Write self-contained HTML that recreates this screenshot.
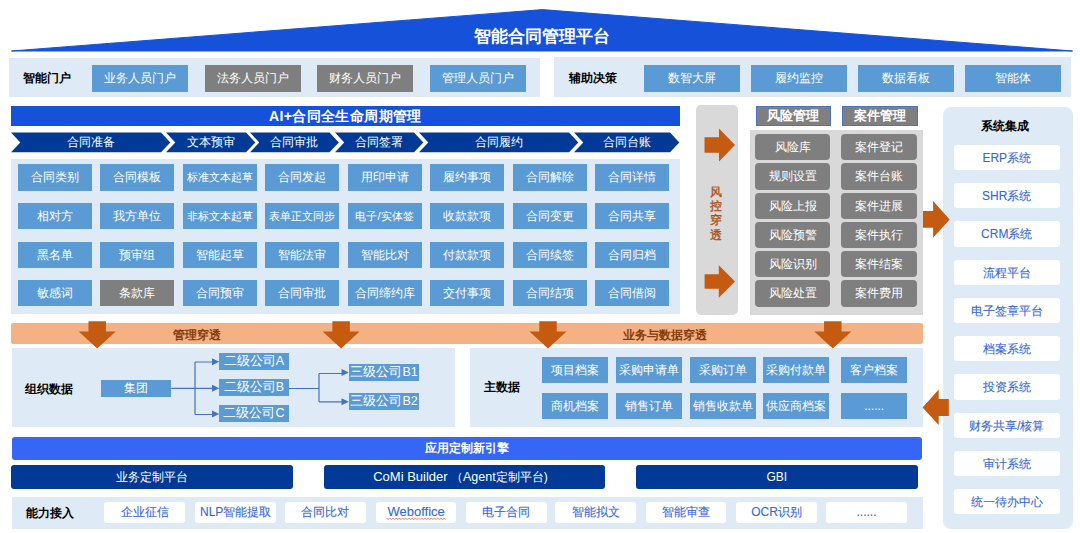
<!DOCTYPE html>
<html><head><meta charset="utf-8"><title>智能合同管理平台</title>
<style>
html,body{margin:0;padding:0;background:#fff;}
body{width:1080px;height:533px;position:relative;overflow:hidden;font-family:"Liberation Sans",sans-serif;}
.b,.t,.l{position:absolute;}
.t{text-align:center;white-space:nowrap;overflow:hidden;}
.l{white-space:nowrap;}
.ov{position:absolute;left:0;top:0;}
</style></head><body>

<svg class="ov" width="1080" height="533" viewBox="0 0 1080 533"><polygon points="11.5,51 542.5,9.6 1072.5,51" fill="#1652d9" stroke="#1652d9" stroke-width="1" stroke-linejoin="bevel"/><polygon points="11,132.6 161,132.6 170.3,142.39999999999998 161,152.2 11,152.2 20.3,142.39999999999998" fill="#003a96"/><polygon points="166,132.6 246,132.6 255.3,142.39999999999998 246,152.2 166,152.2 175.3,142.39999999999998" fill="#003a96"/><polygon points="250,132.6 329.5,132.6 338.8,142.39999999999998 329.5,152.2 250,152.2 259.3,142.39999999999998" fill="#003a96"/><polygon points="335,132.6 414,132.6 423.3,142.39999999999998 414,152.2 335,152.2 344.3,142.39999999999998" fill="#003a96"/><polygon points="419,132.6 569,132.6 578.3,142.39999999999998 569,152.2 419,152.2 428.3,142.39999999999998" fill="#003a96"/><polygon points="574,132.6 670,132.6 679.3,142.39999999999998 670,152.2 574,152.2 583.3,142.39999999999998" fill="#003a96"/></svg>
<div class="l" style="left:392.0px;width:300px;text-align:center;top:27.0px;height:20px;line-height:20px;color:#fff;font-size:17px;font-weight:bold;">智能合同管理平台</div>
<div class="b" style="left:8.7px;top:57.8px;width:530.9px;height:39.4px;background:#deebf7;"></div>
<div class="l" style="left:23.0px;top:68.0px;height:20px;line-height:20px;color:#000;font-size:12px;font-weight:bold;">智能门户</div>
<div class="t" style="left:92.0px;top:65.2px;width:95.6px;height:26.5px;line-height:26.5px;background:#5b9bd5;color:#fff;font-size:12px;font-weight:normal;"><span style="position:relative;top:0px">业务人员门户</span></div>
<div class="t" style="left:205.0px;top:65.2px;width:95.6px;height:26.5px;line-height:26.5px;background:#7f7f7f;color:#fff;font-size:12px;font-weight:normal;"><span style="position:relative;top:0px">法务人员门户</span></div>
<div class="t" style="left:317.4px;top:65.2px;width:95.6px;height:26.5px;line-height:26.5px;background:#7f7f7f;color:#fff;font-size:12px;font-weight:normal;"><span style="position:relative;top:0px">财务人员门户</span></div>
<div class="t" style="left:430.4px;top:65.2px;width:95.6px;height:26.5px;line-height:26.5px;background:#5b9bd5;color:#fff;font-size:12px;font-weight:normal;"><span style="position:relative;top:0px">管理人员门户</span></div>
<div class="b" style="left:553.6px;top:56.5px;width:517.0px;height:40.7px;background:#deebf7;"></div>
<div class="l" style="left:569.4px;top:68.0px;height:20px;line-height:20px;color:#000;font-size:12px;font-weight:bold;">辅助决策</div>
<div class="t" style="left:644.0px;top:65.2px;width:96.0px;height:26.5px;line-height:26.5px;background:#5b9bd5;color:#fff;font-size:12px;font-weight:normal;"><span style="position:relative;top:0px">数智大屏</span></div>
<div class="t" style="left:751.0px;top:65.2px;width:96.0px;height:26.5px;line-height:26.5px;background:#5b9bd5;color:#fff;font-size:12px;font-weight:normal;"><span style="position:relative;top:0px">履约监控</span></div>
<div class="t" style="left:857.8px;top:65.2px;width:96.0px;height:26.5px;line-height:26.5px;background:#5b9bd5;color:#fff;font-size:12px;font-weight:normal;"><span style="position:relative;top:0px">数据看板</span></div>
<div class="t" style="left:964.5px;top:65.2px;width:96.0px;height:26.5px;line-height:26.5px;background:#5b9bd5;color:#fff;font-size:12px;font-weight:normal;"><span style="position:relative;top:0px">智能体</span></div>
<div class="t" style="left:11.2px;top:106.3px;width:668.4px;height:20.0px;line-height:20.0px;background:#1652d9;color:#fff;font-size:14px;font-weight:bold;letter-spacing:0.4px;"><span style="position:relative;top:0px">AI+合同全生命周期管理</span></div>
<div class="l" style="left:-59.3px;width:300px;text-align:center;top:132.4px;height:20px;line-height:20px;color:#fff;font-size:12px;font-weight:normal;">合同准备</div>
<div class="l" style="left:60.7px;width:300px;text-align:center;top:132.4px;height:20px;line-height:20px;color:#fff;font-size:12px;font-weight:normal;">文本预审</div>
<div class="l" style="left:144.4px;width:300px;text-align:center;top:132.4px;height:20px;line-height:20px;color:#fff;font-size:12px;font-weight:normal;">合同审批</div>
<div class="l" style="left:229.1px;width:300px;text-align:center;top:132.4px;height:20px;line-height:20px;color:#fff;font-size:12px;font-weight:normal;">合同签署</div>
<div class="l" style="left:348.6px;width:300px;text-align:center;top:132.4px;height:20px;line-height:20px;color:#fff;font-size:12px;font-weight:normal;">合同履约</div>
<div class="l" style="left:476.6px;width:300px;text-align:center;top:132.4px;height:20px;line-height:20px;color:#fff;font-size:12px;font-weight:normal;">合同台账</div>
<div class="b" style="left:10.5px;top:158.5px;width:669.1px;height:155.8px;background:#deebf7;"></div>
<div class="t" style="left:17.5px;top:164.4px;width:74.0px;height:26.3px;line-height:26.3px;background:#5b9bd5;color:#fff;font-size:12px;font-weight:normal;"><span style="position:relative;top:0px">合同类别</span></div>
<div class="t" style="left:100.0px;top:164.4px;width:74.0px;height:26.3px;line-height:26.3px;background:#5b9bd5;color:#fff;font-size:12px;font-weight:normal;"><span style="position:relative;top:0px">合同模板</span></div>
<div class="t" style="left:182.5px;top:164.4px;width:74.0px;height:26.3px;line-height:26.3px;background:#5b9bd5;color:#fff;font-size:11px;font-weight:normal;"><span style="position:relative;top:0px">标准文本起草</span></div>
<div class="t" style="left:265.0px;top:164.4px;width:74.0px;height:26.3px;line-height:26.3px;background:#5b9bd5;color:#fff;font-size:12px;font-weight:normal;"><span style="position:relative;top:0px">合同发起</span></div>
<div class="t" style="left:347.5px;top:164.4px;width:74.0px;height:26.3px;line-height:26.3px;background:#5b9bd5;color:#fff;font-size:12px;font-weight:normal;"><span style="position:relative;top:0px">用印申请</span></div>
<div class="t" style="left:430.0px;top:164.4px;width:74.0px;height:26.3px;line-height:26.3px;background:#5b9bd5;color:#fff;font-size:12px;font-weight:normal;"><span style="position:relative;top:0px">履约事项</span></div>
<div class="t" style="left:512.5px;top:164.4px;width:74.0px;height:26.3px;line-height:26.3px;background:#5b9bd5;color:#fff;font-size:12px;font-weight:normal;"><span style="position:relative;top:0px">合同解除</span></div>
<div class="t" style="left:595.0px;top:164.4px;width:74.0px;height:26.3px;line-height:26.3px;background:#5b9bd5;color:#fff;font-size:12px;font-weight:normal;"><span style="position:relative;top:0px">合同详情</span></div>
<div class="t" style="left:17.5px;top:202.6px;width:74.0px;height:26.3px;line-height:26.3px;background:#5b9bd5;color:#fff;font-size:12px;font-weight:normal;"><span style="position:relative;top:0px">相对方</span></div>
<div class="t" style="left:100.0px;top:202.6px;width:74.0px;height:26.3px;line-height:26.3px;background:#5b9bd5;color:#fff;font-size:12px;font-weight:normal;"><span style="position:relative;top:0px">我方单位</span></div>
<div class="t" style="left:182.5px;top:202.6px;width:74.0px;height:26.3px;line-height:26.3px;background:#5b9bd5;color:#fff;font-size:11px;font-weight:normal;"><span style="position:relative;top:0px">非标文本起草</span></div>
<div class="t" style="left:265.0px;top:202.6px;width:74.0px;height:26.3px;line-height:26.3px;background:#5b9bd5;color:#fff;font-size:11px;font-weight:normal;"><span style="position:relative;top:0px">表单正文同步</span></div>
<div class="t" style="left:347.5px;top:202.6px;width:74.0px;height:26.3px;line-height:26.3px;background:#5b9bd5;color:#fff;font-size:11px;font-weight:normal;"><span style="position:relative;top:0px">电子/实体签</span></div>
<div class="t" style="left:430.0px;top:202.6px;width:74.0px;height:26.3px;line-height:26.3px;background:#5b9bd5;color:#fff;font-size:12px;font-weight:normal;"><span style="position:relative;top:0px">收款款项</span></div>
<div class="t" style="left:512.5px;top:202.6px;width:74.0px;height:26.3px;line-height:26.3px;background:#5b9bd5;color:#fff;font-size:12px;font-weight:normal;"><span style="position:relative;top:0px">合同变更</span></div>
<div class="t" style="left:595.0px;top:202.6px;width:74.0px;height:26.3px;line-height:26.3px;background:#5b9bd5;color:#fff;font-size:12px;font-weight:normal;"><span style="position:relative;top:0px">合同共享</span></div>
<div class="t" style="left:17.5px;top:241.9px;width:74.0px;height:26.3px;line-height:26.3px;background:#5b9bd5;color:#fff;font-size:12px;font-weight:normal;"><span style="position:relative;top:0px">黑名单</span></div>
<div class="t" style="left:100.0px;top:241.9px;width:74.0px;height:26.3px;line-height:26.3px;background:#5b9bd5;color:#fff;font-size:12px;font-weight:normal;"><span style="position:relative;top:0px">预审组</span></div>
<div class="t" style="left:182.5px;top:241.9px;width:74.0px;height:26.3px;line-height:26.3px;background:#5b9bd5;color:#fff;font-size:12px;font-weight:normal;"><span style="position:relative;top:0px">智能起草</span></div>
<div class="t" style="left:265.0px;top:241.9px;width:74.0px;height:26.3px;line-height:26.3px;background:#5b9bd5;color:#fff;font-size:12px;font-weight:normal;"><span style="position:relative;top:0px">智能法审</span></div>
<div class="t" style="left:347.5px;top:241.9px;width:74.0px;height:26.3px;line-height:26.3px;background:#5b9bd5;color:#fff;font-size:12px;font-weight:normal;"><span style="position:relative;top:0px">智能比对</span></div>
<div class="t" style="left:430.0px;top:241.9px;width:74.0px;height:26.3px;line-height:26.3px;background:#5b9bd5;color:#fff;font-size:12px;font-weight:normal;"><span style="position:relative;top:0px">付款款项</span></div>
<div class="t" style="left:512.5px;top:241.9px;width:74.0px;height:26.3px;line-height:26.3px;background:#5b9bd5;color:#fff;font-size:12px;font-weight:normal;"><span style="position:relative;top:0px">合同续签</span></div>
<div class="t" style="left:595.0px;top:241.9px;width:74.0px;height:26.3px;line-height:26.3px;background:#5b9bd5;color:#fff;font-size:12px;font-weight:normal;"><span style="position:relative;top:0px">合同归档</span></div>
<div class="t" style="left:17.5px;top:280.1px;width:74.0px;height:26.3px;line-height:26.3px;background:#5b9bd5;color:#fff;font-size:12px;font-weight:normal;"><span style="position:relative;top:0px">敏感词</span></div>
<div class="t" style="left:100.0px;top:280.1px;width:74.0px;height:26.3px;line-height:26.3px;background:#7f7f7f;color:#fff;font-size:12px;font-weight:normal;"><span style="position:relative;top:0px">条款库</span></div>
<div class="t" style="left:182.5px;top:280.1px;width:74.0px;height:26.3px;line-height:26.3px;background:#5b9bd5;color:#fff;font-size:12px;font-weight:normal;"><span style="position:relative;top:0px">合同预审</span></div>
<div class="t" style="left:265.0px;top:280.1px;width:74.0px;height:26.3px;line-height:26.3px;background:#5b9bd5;color:#fff;font-size:12px;font-weight:normal;"><span style="position:relative;top:0px">合同审批</span></div>
<div class="t" style="left:347.5px;top:280.1px;width:74.0px;height:26.3px;line-height:26.3px;background:#5b9bd5;color:#fff;font-size:12px;font-weight:normal;"><span style="position:relative;top:0px">合同缔约库</span></div>
<div class="t" style="left:430.0px;top:280.1px;width:74.0px;height:26.3px;line-height:26.3px;background:#5b9bd5;color:#fff;font-size:12px;font-weight:normal;"><span style="position:relative;top:0px">交付事项</span></div>
<div class="t" style="left:512.5px;top:280.1px;width:74.0px;height:26.3px;line-height:26.3px;background:#5b9bd5;color:#fff;font-size:12px;font-weight:normal;"><span style="position:relative;top:0px">合同结项</span></div>
<div class="t" style="left:595.0px;top:280.1px;width:74.0px;height:26.3px;line-height:26.3px;background:#5b9bd5;color:#fff;font-size:12px;font-weight:normal;"><span style="position:relative;top:0px">合同借阅</span></div>
<div class="b" style="left:696.2px;top:105.3px;width:42.2px;height:209.3px;background:#d9d9d9;border-radius:5px;"></div>
<div class="l" style="left:703px;width:26px;text-align:center;top:184.7px;line-height:14.3px;font-size:12px;font-weight:normal;color:#a8521c;-webkit-text-stroke:0.35px #a8521c">风<br>控<br>穿<br>透</div>
<div class="t" style="left:755.7px;top:105.8px;width:75.3px;height:20.6px;line-height:20.6px;background:#7f7f7f;color:#fff;font-size:13px;font-weight:bold;box-sizing:border-box;border:1.3px solid #4a74c8;line-height:17.6px;"><span style="position:relative;top:0px">风险管理</span></div>
<div class="t" style="left:841.5px;top:105.8px;width:76.2px;height:20.6px;line-height:20.6px;background:#7f7f7f;color:#fff;font-size:13px;font-weight:bold;box-sizing:border-box;border:1.3px solid #4a74c8;line-height:17.6px;"><span style="position:relative;top:0px">案件管理</span></div>
<div class="b" style="left:750.0px;top:129.8px;width:173.3px;height:184.9px;background:#d9d9d9;"></div>
<div class="t" style="left:755.2px;top:134.0px;width:75.3px;height:26.3px;line-height:26.3px;background:#7f7f7f;color:#fff;font-size:12px;font-weight:normal;border-radius:4px;"><span style="position:relative;top:0px">风险库</span></div>
<div class="t" style="left:841.3px;top:134.0px;width:76.0px;height:26.3px;line-height:26.3px;background:#7f7f7f;color:#fff;font-size:12px;font-weight:normal;border-radius:4px;"><span style="position:relative;top:0px">案件登记</span></div>
<div class="t" style="left:755.2px;top:163.3px;width:75.3px;height:26.3px;line-height:26.3px;background:#7f7f7f;color:#fff;font-size:12px;font-weight:normal;border-radius:4px;"><span style="position:relative;top:0px">规则设置</span></div>
<div class="t" style="left:841.3px;top:163.3px;width:76.0px;height:26.3px;line-height:26.3px;background:#7f7f7f;color:#fff;font-size:12px;font-weight:normal;border-radius:4px;"><span style="position:relative;top:0px">案件台账</span></div>
<div class="t" style="left:755.2px;top:192.5px;width:75.3px;height:26.3px;line-height:26.3px;background:#7f7f7f;color:#fff;font-size:12px;font-weight:normal;border-radius:4px;"><span style="position:relative;top:0px">风险上报</span></div>
<div class="t" style="left:841.3px;top:192.5px;width:76.0px;height:26.3px;line-height:26.3px;background:#7f7f7f;color:#fff;font-size:12px;font-weight:normal;border-radius:4px;"><span style="position:relative;top:0px">案件进展</span></div>
<div class="t" style="left:755.2px;top:221.8px;width:75.3px;height:26.3px;line-height:26.3px;background:#7f7f7f;color:#fff;font-size:12px;font-weight:normal;border-radius:4px;"><span style="position:relative;top:0px">风险预警</span></div>
<div class="t" style="left:841.3px;top:221.8px;width:76.0px;height:26.3px;line-height:26.3px;background:#7f7f7f;color:#fff;font-size:12px;font-weight:normal;border-radius:4px;"><span style="position:relative;top:0px">案件执行</span></div>
<div class="t" style="left:755.2px;top:251.0px;width:75.3px;height:26.3px;line-height:26.3px;background:#7f7f7f;color:#fff;font-size:12px;font-weight:normal;border-radius:4px;"><span style="position:relative;top:0px">风险识别</span></div>
<div class="t" style="left:841.3px;top:251.0px;width:76.0px;height:26.3px;line-height:26.3px;background:#7f7f7f;color:#fff;font-size:12px;font-weight:normal;border-radius:4px;"><span style="position:relative;top:0px">案件结案</span></div>
<div class="t" style="left:755.2px;top:280.3px;width:75.3px;height:26.3px;line-height:26.3px;background:#7f7f7f;color:#fff;font-size:12px;font-weight:normal;border-radius:4px;"><span style="position:relative;top:0px">风险处置</span></div>
<div class="t" style="left:841.3px;top:280.3px;width:76.0px;height:26.3px;line-height:26.3px;background:#7f7f7f;color:#fff;font-size:12px;font-weight:normal;border-radius:4px;"><span style="position:relative;top:0px">案件费用</span></div>
<div class="b" style="left:943.3px;top:106.6px;width:129.6px;height:422.0px;background:#deebf7;border-radius:8px;"></div>
<div class="l" style="left:855.0px;width:300px;text-align:center;top:115.7px;height:20px;line-height:20px;color:#000;font-size:12px;font-weight:bold;">系统集成</div>
<div class="t" style="left:953.7px;top:144.7px;width:106.2px;height:25.4px;line-height:25.4px;background:#fff;color:#3567dc;font-size:12px;font-weight:normal;border-radius:3px;-webkit-text-stroke:0.1px #3567dc;"><span style="position:relative;top:1px">ERP系统</span></div>
<div class="t" style="left:953.7px;top:183.0px;width:106.2px;height:25.4px;line-height:25.4px;background:#fff;color:#3567dc;font-size:12px;font-weight:normal;border-radius:3px;-webkit-text-stroke:0.1px #3567dc;"><span style="position:relative;top:1px">SHR系统</span></div>
<div class="t" style="left:953.7px;top:221.2px;width:106.2px;height:25.4px;line-height:25.4px;background:#fff;color:#3567dc;font-size:12px;font-weight:normal;border-radius:3px;-webkit-text-stroke:0.1px #3567dc;"><span style="position:relative;top:1px">CRM系统</span></div>
<div class="t" style="left:953.7px;top:259.5px;width:106.2px;height:25.4px;line-height:25.4px;background:#fff;color:#3567dc;font-size:12px;font-weight:normal;border-radius:3px;-webkit-text-stroke:0.1px #3567dc;"><span style="position:relative;top:1px">流程平台</span></div>
<div class="t" style="left:953.7px;top:297.8px;width:106.2px;height:25.4px;line-height:25.4px;background:#fff;color:#3567dc;font-size:12px;font-weight:normal;border-radius:3px;-webkit-text-stroke:0.1px #3567dc;"><span style="position:relative;top:1px">电子签章平台</span></div>
<div class="t" style="left:953.7px;top:336.1px;width:106.2px;height:25.4px;line-height:25.4px;background:#fff;color:#3567dc;font-size:12px;font-weight:normal;border-radius:3px;-webkit-text-stroke:0.1px #3567dc;"><span style="position:relative;top:1px">档案系统</span></div>
<div class="t" style="left:953.7px;top:374.3px;width:106.2px;height:25.4px;line-height:25.4px;background:#fff;color:#3567dc;font-size:12px;font-weight:normal;border-radius:3px;-webkit-text-stroke:0.1px #3567dc;"><span style="position:relative;top:1px">投资系统</span></div>
<div class="t" style="left:953.7px;top:412.6px;width:106.2px;height:25.4px;line-height:25.4px;background:#fff;color:#3567dc;font-size:12px;font-weight:normal;border-radius:3px;-webkit-text-stroke:0.1px #3567dc;"><span style="position:relative;top:1px">财务共享/核算</span></div>
<div class="t" style="left:953.7px;top:450.9px;width:106.2px;height:25.4px;line-height:25.4px;background:#fff;color:#3567dc;font-size:12px;font-weight:normal;border-radius:3px;-webkit-text-stroke:0.1px #3567dc;"><span style="position:relative;top:1px">审计系统</span></div>
<div class="t" style="left:953.7px;top:489.1px;width:106.2px;height:25.4px;line-height:25.4px;background:#fff;color:#3567dc;font-size:12px;font-weight:normal;border-radius:3px;-webkit-text-stroke:0.1px #3567dc;"><span style="position:relative;top:1px">统一待办中心</span></div>
<div class="b" style="left:11.0px;top:323.4px;width:911.6px;height:21.0px;background:#f4b183;border-radius:2px;"></div>
<div class="l" style="left:172.8px;top:324.8px;height:20px;line-height:20px;color:#843c0c;font-size:12px;font-weight:bold;">管理穿透</div>
<div class="l" style="left:623.3px;top:325.3px;height:20px;line-height:20px;color:#843c0c;font-size:12px;font-weight:bold;">业务与数据穿透</div>
<div class="b" style="left:11.8px;top:348.4px;width:443.2px;height:78.2px;background:#deebf7;"></div>
<div class="b" style="left:469.5px;top:348.4px;width:453.1px;height:78.3px;background:#deebf7;"></div>
<div class="l" style="left:24.5px;top:378.9px;height:20px;line-height:20px;color:#000;font-size:11.5px;font-weight:bold;">组织数据</div>
<div class="t" style="left:100.7px;top:379.9px;width:70.6px;height:17.1px;line-height:17.1px;background:#5b9bd5;color:#fff;font-size:12px;font-weight:normal;"><span style="position:relative;top:0px">集团</span></div>
<div class="t" style="left:219.3px;top:353.2px;width:69.4px;height:17.0px;line-height:17.0px;background:#5b9bd5;color:#fff;font-size:12.5px;font-weight:normal;"><span style="position:relative;top:0px">二级公司A</span></div>
<div class="t" style="left:219.3px;top:379.3px;width:69.4px;height:17.0px;line-height:17.0px;background:#5b9bd5;color:#fff;font-size:12.5px;font-weight:normal;"><span style="position:relative;top:0px">二级公司B</span></div>
<div class="t" style="left:219.3px;top:405.1px;width:69.4px;height:17.0px;line-height:17.0px;background:#5b9bd5;color:#fff;font-size:12.5px;font-weight:normal;"><span style="position:relative;top:0px">二级公司C</span></div>
<div class="t" style="left:348.9px;top:364.1px;width:70.4px;height:17.2px;line-height:17.2px;background:#5b9bd5;color:#fff;font-size:12.5px;font-weight:normal;"><span style="position:relative;top:0px">三级公司B1</span></div>
<div class="t" style="left:348.9px;top:393.1px;width:70.4px;height:17.2px;line-height:17.2px;background:#5b9bd5;color:#fff;font-size:12.5px;font-weight:normal;"><span style="position:relative;top:0px">三级公司B2</span></div>
<div class="l" style="left:483.5px;top:377.2px;height:20px;line-height:20px;color:#000;font-size:11.5px;font-weight:bold;">主数据</div>
<div class="t" style="left:542.2px;top:357.2px;width:65.8px;height:26.2px;line-height:26.2px;background:#5b9bd5;color:#fff;font-size:12px;font-weight:normal;"><span style="position:relative;top:0px">项目档案</span></div>
<div class="t" style="left:616.0px;top:357.2px;width:65.8px;height:26.2px;line-height:26.2px;background:#5b9bd5;color:#fff;font-size:12px;font-weight:normal;"><span style="position:relative;top:0px">采购申请单</span></div>
<div class="t" style="left:690.4px;top:357.2px;width:65.8px;height:26.2px;line-height:26.2px;background:#5b9bd5;color:#fff;font-size:12px;font-weight:normal;"><span style="position:relative;top:0px">采购订单</span></div>
<div class="t" style="left:763.3px;top:357.2px;width:65.8px;height:26.2px;line-height:26.2px;background:#5b9bd5;color:#fff;font-size:12px;font-weight:normal;"><span style="position:relative;top:0px">采购付款单</span></div>
<div class="t" style="left:841.3px;top:357.2px;width:65.8px;height:26.2px;line-height:26.2px;background:#5b9bd5;color:#fff;font-size:12px;font-weight:normal;"><span style="position:relative;top:0px">客户档案</span></div>
<div class="t" style="left:542.2px;top:392.8px;width:65.8px;height:26.2px;line-height:26.2px;background:#5b9bd5;color:#fff;font-size:12px;font-weight:normal;"><span style="position:relative;top:0px">商机档案</span></div>
<div class="t" style="left:616.0px;top:392.8px;width:65.8px;height:26.2px;line-height:26.2px;background:#5b9bd5;color:#fff;font-size:12px;font-weight:normal;"><span style="position:relative;top:0px">销售订单</span></div>
<div class="t" style="left:690.4px;top:392.8px;width:65.8px;height:26.2px;line-height:26.2px;background:#5b9bd5;color:#fff;font-size:12px;font-weight:normal;"><span style="position:relative;top:0px">销售收款单</span></div>
<div class="t" style="left:763.3px;top:392.8px;width:65.8px;height:26.2px;line-height:26.2px;background:#5b9bd5;color:#fff;font-size:12px;font-weight:normal;"><span style="position:relative;top:0px">供应商档案</span></div>
<div class="t" style="left:841.3px;top:392.8px;width:65.8px;height:26.2px;line-height:26.2px;background:#5b9bd5;color:#fff;font-size:12px;font-weight:normal;"><span style="position:relative;top:0px">......</span></div>
<div class="t" style="left:12.0px;top:437.0px;width:910.2px;height:23.2px;line-height:23.2px;background:#3666f5;color:#fff;font-size:12px;font-weight:bold;border-radius:3px;"><span style="position:relative;top:0px">应用定制新引擎</span></div>
<div class="t" style="left:11.0px;top:465.0px;width:281.5px;height:24.4px;line-height:24.4px;background:#003a96;color:#fff;font-size:12px;font-weight:normal;border-radius:3px;"><span style="position:relative;top:0px">业务定制平台</span></div>
<div class="t" style="left:323.6px;top:465.0px;width:281.7px;height:24.4px;line-height:24.4px;background:#003a96;color:#fff;font-size:12px;font-weight:normal;border-radius:3px;box-sizing:border-box;padding-right:8px;"><span style="position:relative;top:0px"><span style="font-size:13px">CoMi Builder</span> （<span style="font-size:12.5px">Agent</span>定制平台)</span></div>
<div class="t" style="left:635.8px;top:465.0px;width:282.0px;height:24.4px;line-height:24.4px;background:#003a96;color:#fff;font-size:12px;font-weight:normal;border-radius:3px;"><span style="position:relative;top:0px">GBI</span></div>
<div class="b" style="left:12.0px;top:496.8px;width:910.9px;height:32.0px;background:#deebf7;"></div>
<div class="l" style="left:25.9px;top:502.9px;height:20px;line-height:20px;color:#000;font-size:11.5px;font-weight:bold;">能力接入</div>
<div class="t" style="left:104.3px;top:502.3px;width:80.7px;height:20.3px;line-height:20.3px;background:#fff;color:#3567dc;font-size:12px;font-weight:normal;border-radius:3px;-webkit-text-stroke:0.1px #3567dc;"><span style="position:relative;top:0px">企业征信</span></div>
<div class="t" style="left:195.3px;top:502.3px;width:80.7px;height:20.3px;line-height:20.3px;background:#fff;color:#3567dc;font-size:12px;font-weight:normal;border-radius:3px;-webkit-text-stroke:0.1px #3567dc;"><span style="position:relative;top:0px">NLP智能提取</span></div>
<div class="t" style="left:285.0px;top:502.3px;width:80.7px;height:20.3px;line-height:20.3px;background:#fff;color:#3567dc;font-size:12px;font-weight:normal;border-radius:3px;-webkit-text-stroke:0.1px #3567dc;"><span style="position:relative;top:0px">合同比对</span></div>
<div class="t" style="left:375.8px;top:502.3px;width:80.7px;height:20.3px;line-height:20.3px;background:#fff;color:#3567dc;font-size:12px;font-weight:normal;border-radius:3px;-webkit-text-stroke:0.1px #3567dc;"><span style="position:relative;top:0px"><span style="font-size:13px">Weboffice</span></span></div>
<div class="t" style="left:466.0px;top:502.3px;width:80.7px;height:20.3px;line-height:20.3px;background:#fff;color:#3567dc;font-size:12px;font-weight:normal;border-radius:3px;-webkit-text-stroke:0.1px #3567dc;"><span style="position:relative;top:0px">电子合同</span></div>
<div class="t" style="left:555.3px;top:502.3px;width:80.7px;height:20.3px;line-height:20.3px;background:#fff;color:#3567dc;font-size:12px;font-weight:normal;border-radius:3px;-webkit-text-stroke:0.1px #3567dc;"><span style="position:relative;top:0px">智能拟文</span></div>
<div class="t" style="left:645.6px;top:502.3px;width:80.7px;height:20.3px;line-height:20.3px;background:#fff;color:#3567dc;font-size:12px;font-weight:normal;border-radius:3px;-webkit-text-stroke:0.1px #3567dc;"><span style="position:relative;top:0px">智能审查</span></div>
<div class="t" style="left:736.2px;top:502.3px;width:80.7px;height:20.3px;line-height:20.3px;background:#fff;color:#3567dc;font-size:12px;font-weight:normal;border-radius:3px;-webkit-text-stroke:0.1px #3567dc;"><span style="position:relative;top:0px">OCR识别</span></div>
<div class="t" style="left:826.2px;top:502.3px;width:80.7px;height:20.3px;line-height:20.3px;background:#fff;color:#3567dc;font-size:12px;font-weight:normal;border-radius:3px;-webkit-text-stroke:0.1px #3567dc;"><span style="position:relative;top:0px">......</span></div>
<svg class="ov" width="1080" height="533" viewBox="0 0 1080 533"><polygon points="704.5,137.25 719,137.25 719,128.5 735,145 719,161.5 719,152.75 704.5,152.75" fill="#c55a11"/><polygon points="704.6,274.2 718.8,274.2 718.8,265.2 735,281.5 718.8,297.8 718.8,288.8 704.6,288.8" fill="#c55a11"/><polygon points="923,211.0 933.1,211.0 933.1,201.0 949.6,219.4 933.1,237.8 933.1,227.8 923,227.8" fill="#c55a11"/><polygon points="88.45,321.2 105.95,321.2 105.95,331.5 115.7,331.5 97.2,348.4 78.7,331.5 88.45,331.5" fill="#c55a11"/><polygon points="332.35,321.2 349.85,321.2 349.85,331.5 359.6,331.5 341.1,348.4 322.6,331.5 332.35,331.5" fill="#c55a11"/><polygon points="539.25,321.2 556.75,321.2 556.75,331.5 566.5,331.5 548,348.4 529.5,331.5 539.25,331.5" fill="#c55a11"/><polygon points="824.05,321.2 841.55,321.2 841.55,331.5 851.3,331.5 832.8,348.4 814.3,331.5 824.05,331.5" fill="#c55a11"/><path d="M171.3,388.3 H195 M195,362 V414.5 M195,362 H213 M195,388.3 H213 M195,414.5 H213" stroke="#4472c4" stroke-width="1.2" fill="none"/><polygon points="212,358.2 219.3,361.7 212,365.2" fill="#4472c4"/><polygon points="212,384.8 219.3,388.3 212,391.8" fill="#4472c4"/><polygon points="212,410.6 219.3,414.1 212,417.6" fill="#4472c4"/><path d="M288.7,388.5 H319 M319,373.5 V401.8 M319,373.5 H342 M319,401.8 H342" stroke="#4472c4" stroke-width="1.2" fill="none"/><polygon points="341.5,369.1 348.9,372.6 341.5,376.1" fill="#4472c4"/><polygon points="341.5,398.3 348.9,401.8 341.5,405.3" fill="#4472c4"/><path d="M386.5,518.3 L388.1,519.4 L389.7,518.3 L391.3,519.4 L392.9,518.3 L394.5,519.4 L396.1,518.3 L397.7,519.4 L399.3,518.3 L400.9,519.4 L402.5,518.3 L404.1,519.4 L405.7,518.3 L407.3,519.4 L408.9,518.3 L410.5,519.4 L412.1,518.3 L413.7,519.4 L415.3,518.3 L416.9,519.4 L418.5,518.3 L420.1,519.4 L421.7,518.3 L423.3,519.4 L424.9,518.3 L426.5,519.4 L428.1,518.3 L429.7,519.4 L431.3,518.3 L432.9,519.4 L434.5,518.3 L436.1,519.4 L437.7,518.3 L439.3,519.4 L440.9,518.3 L442.5,519.4 L444.1,518.3 L445.7,519.4" stroke="#e84a4a" stroke-width="0.9" fill="none" opacity="0.85"/><polygon points="922.6,407.4 938.7,389.4 938.7,398.9 948.8,398.9 948.8,416 938.7,416 938.7,425.1" fill="#c55a11"/></svg>
</body></html>
